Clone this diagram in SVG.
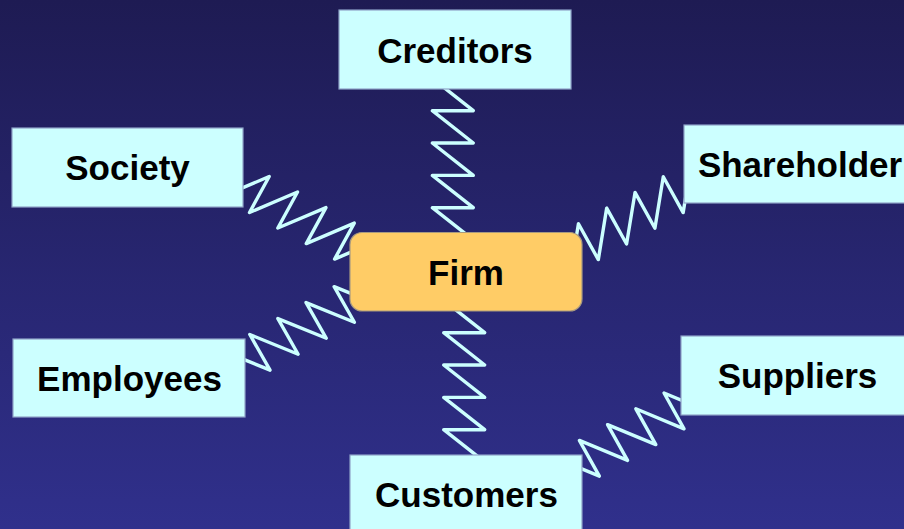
<svg xmlns="http://www.w3.org/2000/svg" xmlns:xlink="http://www.w3.org/1999/xlink" width="904" height="529" viewBox="0 0 904 529">
  <defs>
    <linearGradient id="bg" x1="0" y1="0" x2="0" y2="1">
      <stop offset="0" stop-color="#1e1b53"/>
      <stop offset="1" stop-color="#30308c"/>
    </linearGradient>
    <path id="spring" d="M -14.4,-76 L 20.5,-48.5 L -20.5,-48.5 L 20.5,-16.2 L -20.5,-16.2 L 20.5,16.2 L -20.5,16.2 L 20.5,48.5 L -20.5,48.5 L 14.4,76"/>
    <style>
      .spring { fill: none; stroke: #ccffff; stroke-width: 3.4; stroke-linejoin: round; stroke-linecap: butt; }
      .box { fill: #ccffff; stroke: #8fa3c8; stroke-width: 1.2; }
      .firm { fill: #ffcc66; stroke: #a89a80; stroke-width: 1.2; }
      .label { font-family: "Liberation Sans", Arial, Helvetica, sans-serif; font-weight: bold; font-size: 35px; fill: #000000; text-anchor: middle; }
    </style>
  </defs>

  <rect x="0" y="0" width="904" height="529" fill="url(#bg)"/>

  <g id="connectors">
    <use xlink:href="#spring" href="#spring" class="spring" transform="translate(452.8,159.2)"/>
    <use xlink:href="#spring" href="#spring" class="spring" transform="translate(464.2,381.2)"/>
    <use xlink:href="#spring" href="#spring" class="spring" transform="translate(301.9,217.8) rotate(-61.3)"/>
    <use xlink:href="#spring" href="#spring" class="spring" transform="translate(630.8,218.2) rotate(61)"/>
    <use xlink:href="#spring" href="#spring" class="spring" transform="translate(302.1,328.4) rotate(-119.6) scale(-1,1)"/>
    <use xlink:href="#spring" href="#spring" class="spring" transform="translate(631.7,434.6) rotate(-119.2) scale(-1,1)"/>
  </g>

  <g id="creditors">
    <rect class="box" x="339" y="10" width="232" height="79"/>
    <text class="label" x="455" y="63">Creditors</text>
  </g>
  <g id="society">
    <rect class="box" x="12" y="128" width="231" height="79"/>
    <text class="label" x="127.5" y="180">Society</text>
  </g>
  <g id="shareholder">
    <rect class="box" x="684" y="125" width="232" height="78"/>
    <text class="label" x="800" y="177">Shareholder</text>
  </g>
  <g id="firm">
    <rect class="firm" x="350" y="232.5" width="232" height="78.5" rx="12" ry="12"/>
    <text class="label" x="466" y="285">Firm</text>
  </g>
  <g id="employees">
    <rect class="box" x="13" y="339" width="232" height="78"/>
    <text class="label" x="129.5" y="391">Employees</text>
  </g>
  <g id="suppliers">
    <rect class="box" x="681" y="336" width="232" height="79"/>
    <text class="label" x="797.5" y="388">Suppliers</text>
  </g>
  <g id="customers">
    <rect class="box" x="350" y="455" width="232" height="80"/>
    <text class="label" x="466.5" y="507">Customers</text>
  </g>
</svg>
